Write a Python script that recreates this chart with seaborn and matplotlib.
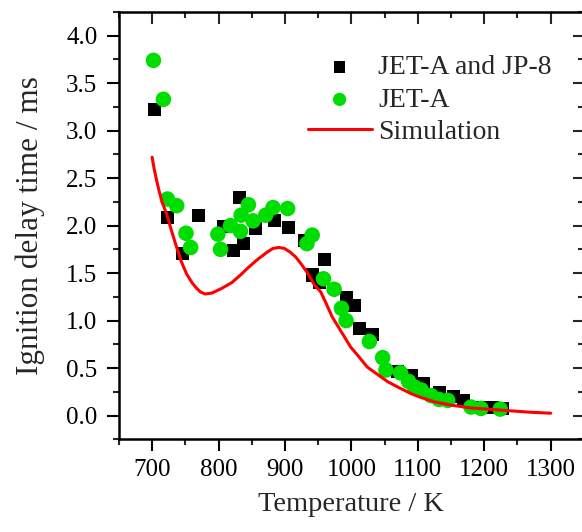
import numpy as np
import pandas as pd
import seaborn as sns
import matplotlib.pyplot as plt
from matplotlib.ticker import MultipleLocator

# dados
jp8_T = [704, 723, 746, 770, 808, 823, 832, 837, 856, 884, 906, 929, 942, 952, 960,
         992, 1004, 1012, 1032, 1070, 1091, 1108, 1133, 1153, 1168, 1196, 1213, 1228]
jp8_tau = [3.22, 2.09, 1.71, 2.11, 1.99, 1.74, 2.30, 1.81, 1.97, 2.05, 1.98, 1.84, 1.48, 1.40, 1.64,
           1.24, 1.16, 0.92, 0.85, 0.46, 0.425, 0.34, 0.245, 0.20, 0.16, 0.09, 0.086, 0.075]

jeta_T = [702, 717, 723, 737, 751, 758, 799, 803, 818, 833, 834, 845, 852, 871, 882, 904,
          933, 941, 958, 974, 985, 992, 1027, 1047, 1052, 1074, 1086, 1095, 1105, 1120,
          1132, 1145, 1180, 1195, 1224]
jeta_tau = [3.74, 3.33, 2.28, 2.21, 1.92, 1.77, 1.91, 1.75, 2.00, 1.94, 2.11, 2.22, 2.05, 2.11, 2.19, 2.18,
            1.81, 1.90, 1.44, 1.33, 1.13, 1.00, 0.78, 0.61, 0.48, 0.45, 0.36, 0.30, 0.27, 0.21,
            0.17, 0.16, 0.09, 0.075, 0.068]

sim_T = [700, 703, 707, 711, 716, 722, 729, 737, 744, 752, 760, 767, 773, 780, 790, 805,
         820, 833, 845, 858, 873, 882, 891, 899, 908, 916, 924, 934, 944, 954, 962, 971,
         985, 999, 1010, 1024, 1040, 1055, 1070, 1090, 1105, 1125, 1150, 1180, 1210, 1246,
         1270, 1300]
sim_tau = [2.72, 2.60, 2.47, 2.35, 2.23, 2.12, 1.95, 1.77, 1.62, 1.49, 1.40, 1.34, 1.30, 1.28,
           1.29, 1.34, 1.40, 1.48, 1.56, 1.64, 1.72, 1.76, 1.77, 1.76, 1.72, 1.67, 1.60, 1.50,
           1.38, 1.30, 1.18, 1.04, 0.88, 0.72, 0.63, 0.51, 0.43, 0.355, 0.30, 0.23, 0.19, 0.145,
           0.11, 0.08, 0.065, 0.047, 0.035, 0.025]

df_jp8 = pd.DataFrame({"T": jp8_T, "tau": jp8_tau})
df_jeta = pd.DataFrame({"T": jeta_T, "tau": jeta_tau})
df_sim = pd.DataFrame({"T": sim_T, "tau": sim_tau})

sns.set_style("ticks")
plt.rcParams["font.family"] = ["Liberation Serif", "DejaVu Serif"]

fig = plt.figure(figsize=(5.82, 5.32), dpi=100)
# o eixo direito fica logo fora da borda da figura, como no original
ax = fig.add_axes([0.2043, 0.1742, 0.799, 0.8034])

sns.scatterplot(data=df_jp8, x="T", y="tau", marker="s", s=88, color="black",
                edgecolor="none", label="JET-A and JP-8", ax=ax, zorder=3)
sns.scatterplot(data=df_jeta, x="T", y="tau", marker="o", s=125, color="#00dd00",
                edgecolor="none", label="JET-A", ax=ax, zorder=4)
sns.lineplot(data=df_sim, x="T", y="tau", color="#ff0000", linewidth=2.2,
             label="Simulation", ax=ax, zorder=5)

ax.set_xlim(650, 1350)
ax.set_ylim(-0.25, 4.25)
ax.xaxis.set_major_locator(MultipleLocator(100))
ax.xaxis.set_minor_locator(MultipleLocator(50))
ax.yaxis.set_major_locator(MultipleLocator(0.5))
ax.yaxis.set_minor_locator(MultipleLocator(0.25))
ax.yaxis.set_major_formatter(plt.FormatStrFormatter("%.1f"))

for s in ax.spines.values():
    s.set_visible(True)
    s.set_linewidth(1.8)
    s.set_color("black")

ax.tick_params(which="major", direction="out", length=8.5, width=1.5, labelsize=18,
               colors="black")
ax.tick_params(axis="x", which="major", pad=5.5)
ax.tick_params(axis="y", which="major", pad=7)
ax.tick_params(which="minor", direction="out", length=4.3, width=1.5)

# eixos espelhados com ticks para dentro
top = ax.secondary_xaxis("top")
top.xaxis.set_major_locator(MultipleLocator(100))
top.xaxis.set_minor_locator(MultipleLocator(50))
top.tick_params(which="major", direction="in", length=8.5, width=1.5, labeltop=False)
top.tick_params(which="minor", direction="in", length=4.5, width=1.5)
right = ax.secondary_yaxis("right")
right.yaxis.set_major_locator(MultipleLocator(0.5))
right.yaxis.set_minor_locator(MultipleLocator(0.25))
right.tick_params(which="major", direction="in", length=8, width=1.5, labelright=False)
right.tick_params(which="minor", direction="in", length=4.5, width=1.5)

ax.set_xlabel("Temperature / K", fontsize=20.5, labelpad=8)
ax.set_ylabel("Ignition delay time / ms", fontsize=22.5, labelpad=15)

ax.legend(loc="upper left", bbox_to_anchor=(0.376, 0.932), frameon=False, fontsize=20,
          borderpad=0, labelspacing=0.25, handlelength=2.3, handletextpad=0.25,
          markerscale=0.85)

fig.savefig("out.png", dpi=100)
